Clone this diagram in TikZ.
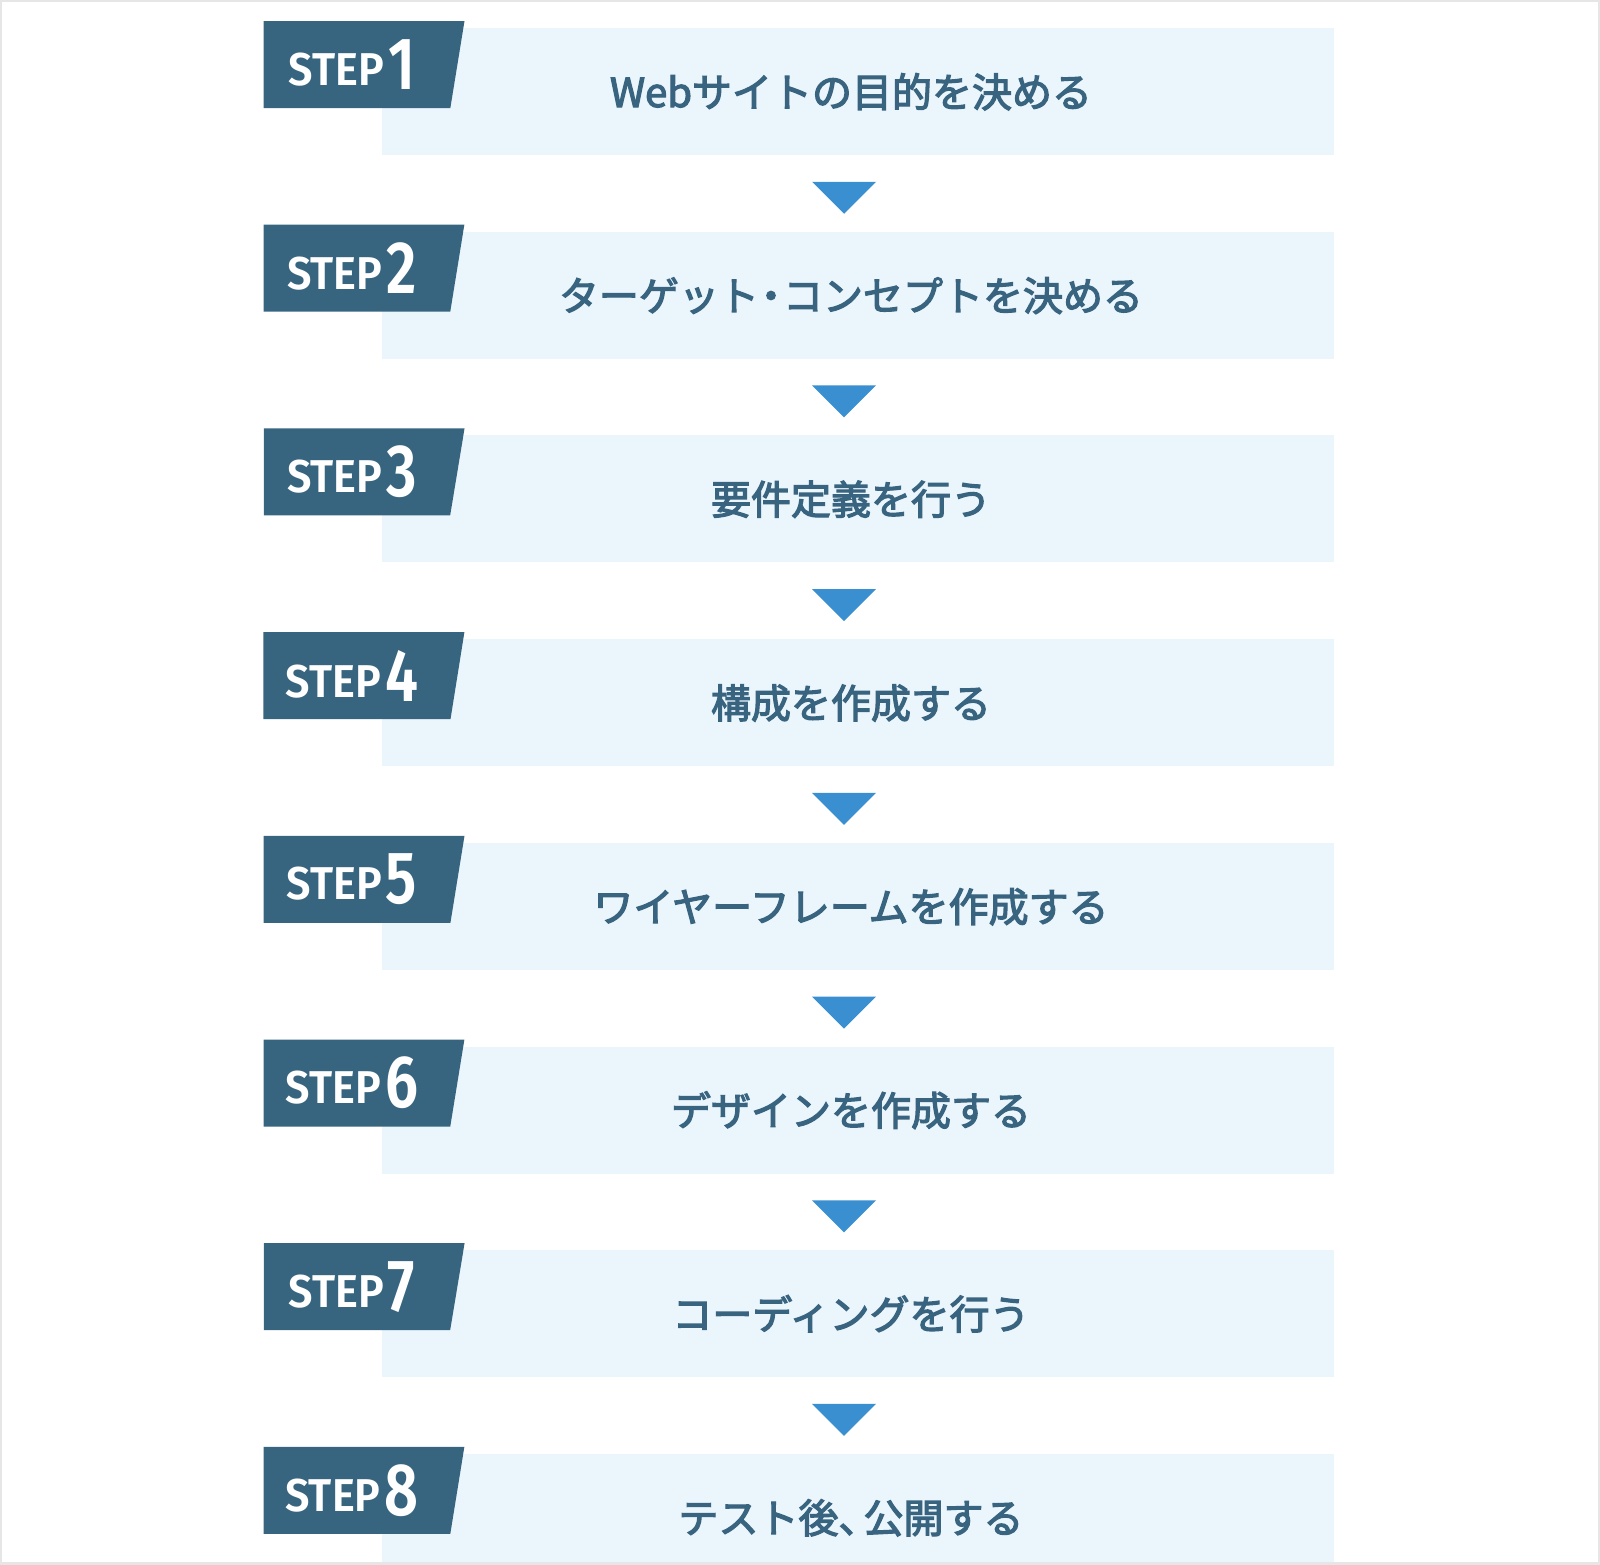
\documentclass[tikz,border=0pt]{standalone}
\usepackage{fontspec}
\usetikzlibrary{shapes.geometric}

\newfontfamily\jpfont{Noto Sans CJK JP}[FakeBold=3]
\newfontfamily\stepfont{Fira Sans}[FakeStretch=0.94, BoldFont=* SemiBold]
\newfontfamily\numfont{Fira Sans}[FakeStretch=0.8, BoldFont=* SemiBold]

\definecolor{stepblue}{HTML}{37657F}
\definecolor{titleblue}{HTML}{386480}
\definecolor{bandblue}{HTML}{EAF5FC}
\definecolor{arrowblue}{HTML}{3A8FD0}
\definecolor{framegray}{HTML}{E6E6E6}

% STEP + big number
\newcommand\stepno[1]{STEP\hspace{4pt}\raisebox{-4pt}{\numfont\bfseries\fontsize{74}{74}\selectfont #1}\hspace*{10pt}}

\begin{document}
\begin{tikzpicture}[x=1pt, y=-1pt]
  \tikzstyle{tag}=[trapezium, trapezium left angle=78.3, trapezium right angle=90, shape border rotate=180, trapezium stretches=true, minimum width=201, minimum height=87, inner sep=0pt, fill=stepblue, text=white, font=\stepfont\bfseries\fontsize{46}{46}\selectfont]
  \tikzstyle{band}=[rectangle, fill=bandblue, minimum width=952, minimum height=127, inner sep=0pt]
  \tikzstyle{title}=[anchor=base, text=titleblue, inner sep=0pt, font=\jpfont\fontsize{40}{40}\selectfont]
  \tikzstyle{down}=[isosceles triangle, isosceles triangle stretches, rotate=-90, minimum width=64, minimum height=32, inner sep=0pt, fill=arrowblue]

  \useasboundingbox (0,0) rectangle (1600,1564);

  \node[band] (b1) at (858, 91.5)   {};
  \node[band] (b2) at (858, 295.2)  {};
  \node[band] (b3) at (858, 498.9)  {};
  \node[band] (b4) at (858, 702.6)  {};
  \node[band] (b5) at (858, 906.3)  {};
  \node[band] (b6) at (858, 1110)   {};
  \node[band] (b7) at (858, 1313.7) {};
  \node[band] (b8) at (858, 1517.4) {};

  \node[tag] (s1) at (357, 64.5)   {\stepno{1}};
  \node[tag] (s2) at (357, 268.2)  {\stepno{2}};
  \node[tag] (s3) at (357, 471.9)  {\stepno{3}};
  \node[tag] (s4) at (357, 675.6)  {\stepno{4}};
  \node[tag] (s5) at (357, 879.3)  {\stepno{5}};
  \node[tag] (s6) at (357, 1083)   {\stepno{6}};
  \node[tag] (s7) at (357, 1286.7) {\stepno{7}};
  \node[tag] (s8) at (357, 1490.4) {\stepno{8}};

  \node[title] (t1) at (851, 107)    {Webサイトの目的を決める};
  \node[title] (t2) at (851, 310.7)  {ターゲット\kern-8pt・\kern-8pt コンセプトを決める};
  \node[title] (t3) at (851, 514.4)  {要件定義を行う};
  \node[title] (t4) at (851, 718.1)  {構成を作成する};
  \node[title] (t5) at (851, 921.8)  {ワイヤーフレームを作成する};
  \node[title] (t6) at (851, 1125.5) {デザインを作成する};
  \node[title] (t7) at (851, 1329.2) {コーディングを行う};
  \node[title] (t8) at (851, 1532.9) {テスト後、\kern-15pt 公開する};

  \node[down] (d1) at (844, 195)    {};
  \node[down] (d2) at (844, 398.7)  {};
  \node[down] (d3) at (844, 602.4)  {};
  \node[down] (d4) at (844, 806.1)  {};
  \node[down] (d5) at (844, 1009.8) {};
  \node[down] (d6) at (844, 1213.5) {};
  \node[down] (d7) at (844, 1417.2) {};

  \draw[line width=4pt, framegray] (0,0) rectangle (1600,1564);
\end{tikzpicture}
\end{document}
